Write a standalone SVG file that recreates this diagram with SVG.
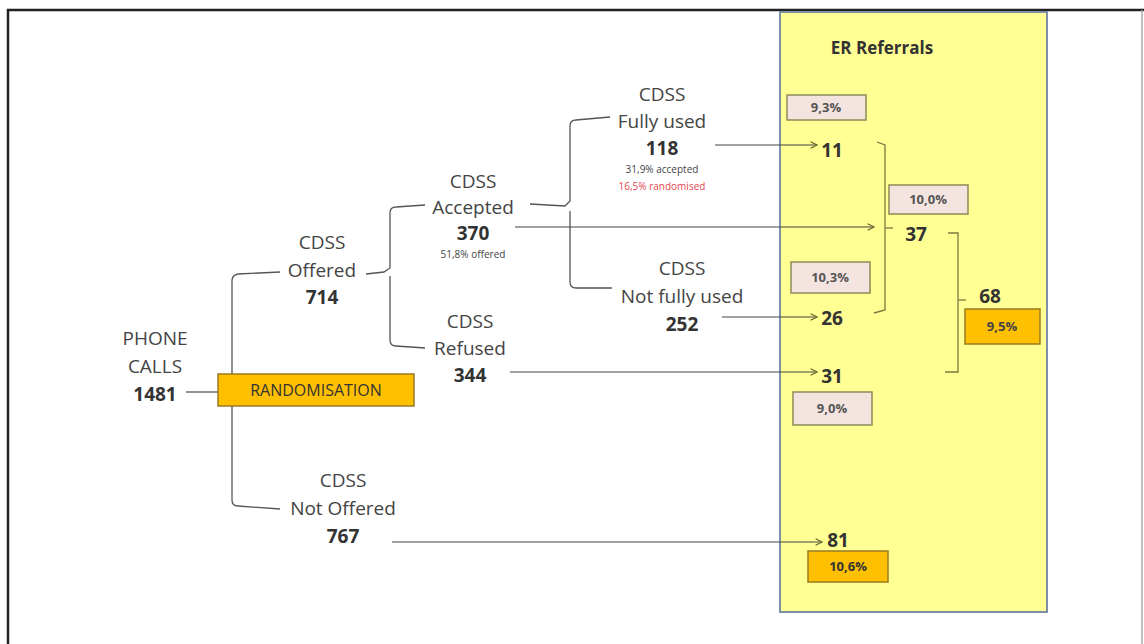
<svg xmlns="http://www.w3.org/2000/svg" width="1144" height="644" viewBox="0 0 1144 644">
  <style>
    .lbl { font-family: "Open Sans", "Liberation Sans", sans-serif; font-size: 19px; fill: #444; text-anchor: middle; }
    .num { font-family: "Open Sans", "Liberation Sans", sans-serif; font-size: 19px; font-weight: bold; fill: #333; text-anchor: middle; }
    .small { font-family: "Open Sans", "Liberation Sans", sans-serif; font-size: 10px; fill: #444; text-anchor: middle; }
    .red { fill: #e8454f; }
    .pct { font-family: "Open Sans", "Liberation Sans", sans-serif; font-size: 13px; font-weight: bold; fill: #555; text-anchor: middle; }
    .pctbox { fill: #f4e4e0; stroke: #8c8a55; stroke-width: 1.5; }
    .orange { fill: #ffc000; stroke: #9a7a20; stroke-width: 1.5; }
    .line { fill: none; stroke: #555; stroke-width: 1.3; }
    .yline { fill: none; stroke: #7a7a40; stroke-width: 1.3; }
    .arrow { fill: none; stroke: #444; stroke-width: 1.2; marker-end: url(#head); }
  </style>
  <defs>
    <marker id="head" viewBox="0 0 10 10" refX="9" refY="5" markerWidth="8" markerHeight="8" orient="auto" markerUnits="userSpaceOnUse">
      <path d="M1 1 L9 5 L1 9" fill="none" stroke="#6a6a30" stroke-width="1.5"/>
    </marker>
  </defs>

  <rect width="1144" height="644" fill="#ffffff"/>
  <!-- outer frame -->
  <path d="M8 644 L8 10 L1144 10" fill="none" stroke="#222" stroke-width="2.5"/>
  <line x1="1142" y1="10" x2="1142" y2="644" stroke="#aaa" stroke-width="1.5"/>

  <!-- referral panel -->
  <g id="er-panel">
    <rect x="780" y="12" width="267" height="600" fill="#ffff94" stroke="#7f8fa8" stroke-width="2"/>
    <text x="882" y="54" class="num" style="font-size:17px">ER Referrals</text>
  </g>

  <!-- connectors -->
  <g id="connectors">
    <!-- phone calls to randomisation -->
    <line class="line" x1="186" y1="392" x2="218" y2="392"/>
    <!-- randomisation split -->
    <path class="line" d="M280 272 L238 274 Q232 275 232 281 L232 500 Q232 506 238 506 L280 509"/>
    <!-- offered split -->
    <path class="line" d="M366 274 L384 272 L390 268 L390 213 Q390 207 396 207 L425 205"/>
    <path class="line" d="M390 276 L390 340 Q390 346 396 346 L425 348"/>
    <!-- accepted split -->
    <path class="line" d="M530 204 L565 206 L570 201 L570 126 Q570 120 576 120 L610 117"/>
    <path class="line" d="M570 211 L570 282 Q570 288 576 288 L612 288"/>
    <!-- flows into referrals -->
    <line class="arrow" x1="715" y1="145" x2="817" y2="145"/>
    <line class="arrow" x1="515" y1="227" x2="874" y2="227"/>
    <line class="arrow" x1="722" y1="317" x2="817" y2="317"/>
    <line class="arrow" x1="510" y1="372" x2="817" y2="372"/>
    <line class="arrow" x1="392" y1="542" x2="822" y2="542"/>
    <!-- sum brackets -->
    <path class="yline" d="M877 142 L885 145 L885 310 L874 313"/>
    <line class="yline" x1="885" y1="228" x2="893" y2="228"/>
    <path class="yline" d="M948 233 L958 233 L958 372 L945 372"/>
    <line class="yline" x1="958" y1="300" x2="966" y2="300"/>
  </g>

  <g id="phone-calls">
    <text x="155" y="345" class="lbl">PHONE</text>
    <text x="155" y="373" class="lbl">CALLS</text>
    <text x="155" y="401" class="num">1481</text>
  </g>

  <g id="randomisation">
    <rect x="218" y="374" width="196" height="32" class="orange"/>
    <text x="316" y="396" class="lbl" style="font-size:16px;fill:#333">RANDOMISATION</text>
  </g>

  <g id="offered">
    <text x="322" y="249" class="lbl">CDSS</text>
    <text x="322" y="277" class="lbl">Offered</text>
    <text x="322" y="304" class="num">714</text>
  </g>

  <g id="not-offered">
    <text x="343" y="487" class="lbl">CDSS</text>
    <text x="343" y="515" class="lbl">Not Offered</text>
    <text x="343" y="543" class="num">767</text>
  </g>

  <g id="accepted">
    <text x="473" y="188" class="lbl">CDSS</text>
    <text x="473" y="214" class="lbl">Accepted</text>
    <text x="473" y="240" class="num">370</text>
    <text x="473" y="258" class="small">51,8% offered</text>
  </g>

  <g id="refused">
    <text x="470" y="328" class="lbl">CDSS</text>
    <text x="470" y="355" class="lbl">Refused</text>
    <text x="470" y="382" class="num">344</text>
  </g>

  <g id="fully-used">
    <text x="662" y="101" class="lbl">CDSS</text>
    <text x="662" y="128" class="lbl">Fully used</text>
    <text x="662" y="155" class="num">118</text>
    <text x="662" y="173" class="small">31,9% accepted</text>
    <text x="662" y="190" class="small red">16,5% randomised</text>
  </g>

  <g id="not-fully-used">
    <text x="682" y="275" class="lbl">CDSS</text>
    <text x="682" y="303" class="lbl">Not fully used</text>
    <text x="682" y="331" class="num">252</text>
  </g>

  <g id="er-11">
    <rect x="787" y="95" width="79" height="25" class="pctbox"/>
    <text x="826" y="112" class="pct">9,3%</text>
    <text x="832" y="157" class="num">11</text>
  </g>

  <g id="er-37">
    <rect x="889" y="185" width="79" height="29" class="pctbox"/>
    <text x="928" y="204" class="pct">10,0%</text>
    <text x="916" y="241" class="num">37</text>
  </g>

  <g id="er-26">
    <rect x="791" y="262" width="79" height="31" class="pctbox"/>
    <text x="830" y="282" class="pct">10,3%</text>
    <text x="832" y="325" class="num">26</text>
  </g>

  <g id="er-31">
    <text x="832" y="383" class="num">31</text>
    <rect x="793" y="392" width="79" height="33" class="pctbox"/>
    <text x="832" y="413" class="pct">9,0%</text>
  </g>

  <g id="er-68">
    <text x="990" y="303" class="num">68</text>
    <rect x="965" y="309" width="75" height="35" class="orange"/>
    <text x="1002" y="331" class="pct" style="fill:#444">9,5%</text>
  </g>

  <g id="er-81">
    <text x="838" y="547" class="num">81</text>
    <rect x="808" y="551" width="80" height="31" class="orange"/>
    <text x="848" y="571" class="pct" style="fill:#333">10,6%</text>
  </g>
</svg>
